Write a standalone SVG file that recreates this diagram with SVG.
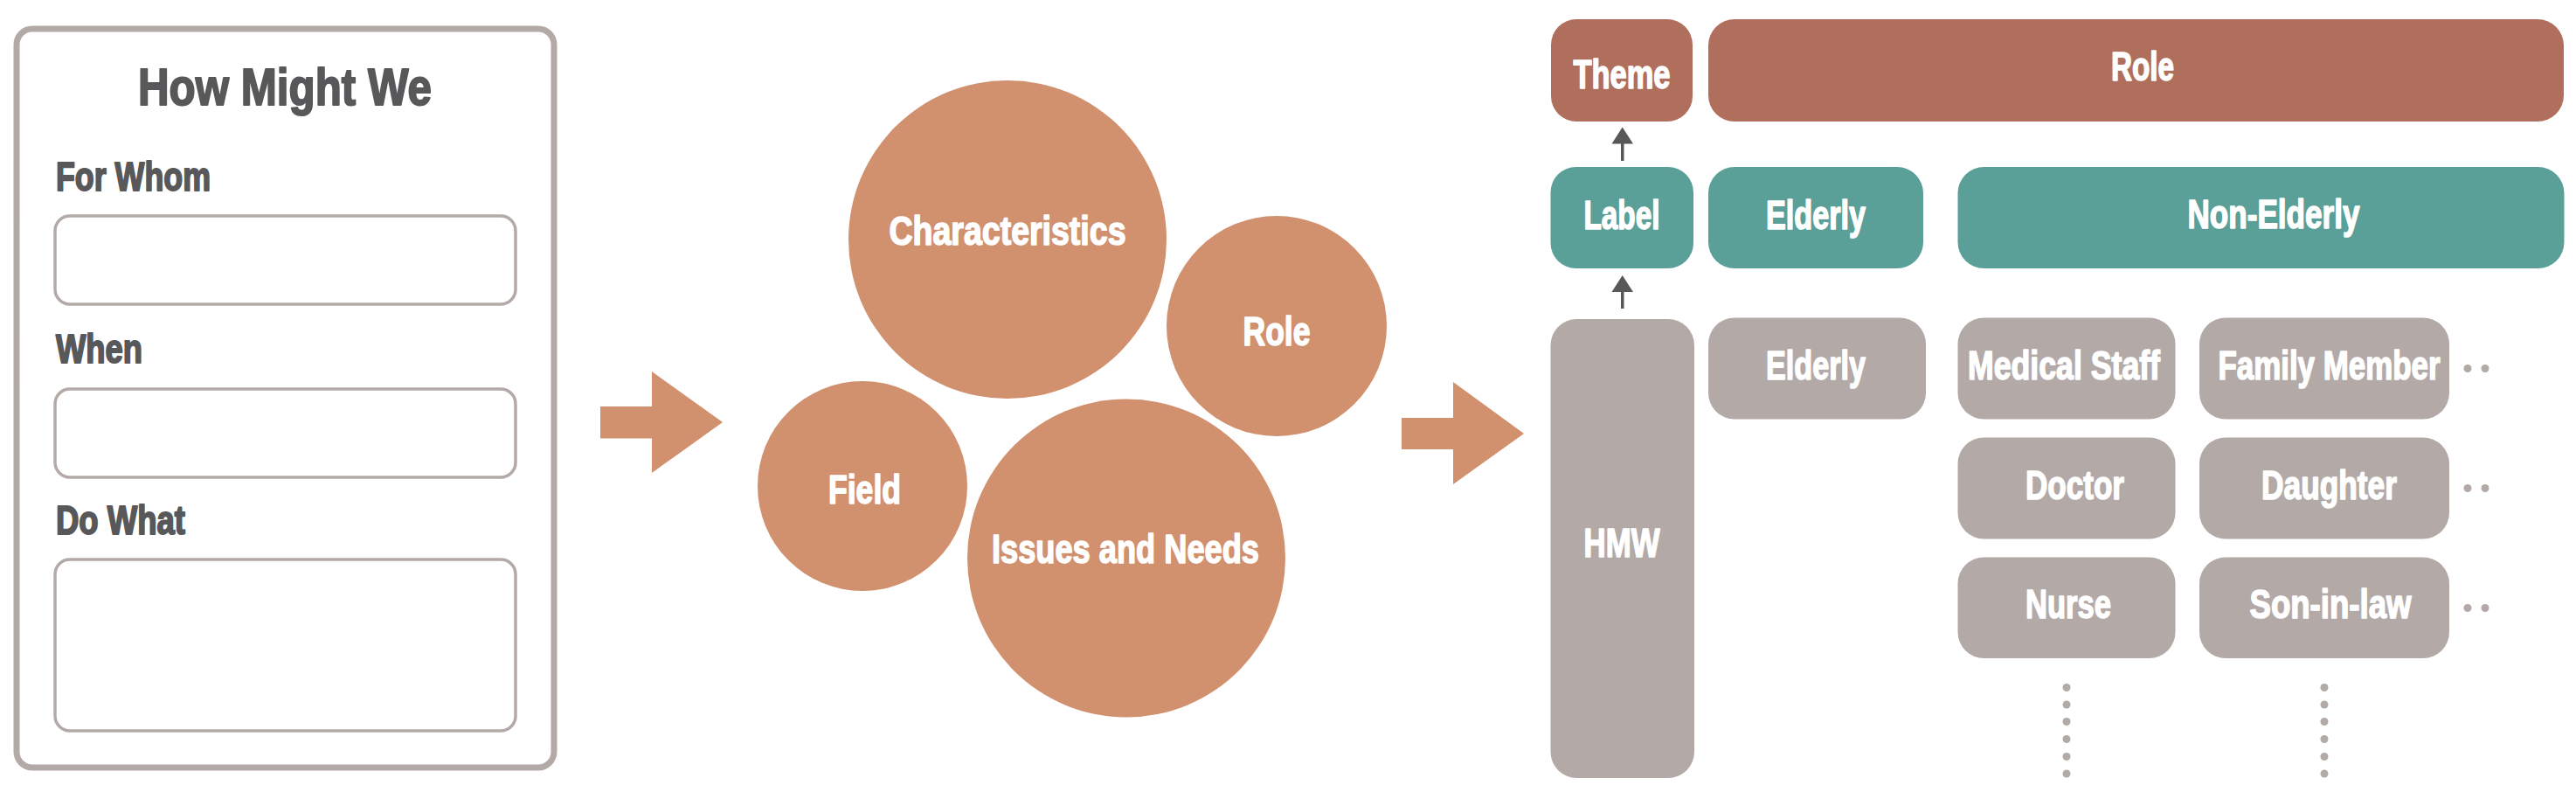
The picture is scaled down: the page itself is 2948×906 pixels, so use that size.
<svg xmlns="http://www.w3.org/2000/svg" width="2948" height="906" viewBox="0 0 2948 906">
<style>
  .t { font-family: "Liberation Sans Narrow", "Liberation Sans", Arial, sans-serif; font-weight: bold; stroke-linejoin: round; }
  .dark { fill: #58585a; stroke: #58585a; stroke-width: 2; }
  .wht { fill: #ffffff; stroke: #ffffff; stroke-width: 1.6; font-size: 46px; text-anchor: middle; }
  .field { fill: #ffffff; stroke: #b3aaa8; stroke-width: 3.5; }
  .circ { fill: #d1906e; }
  .brown { fill: #b06f5c; }
  .teal { fill: #5aa098; }
  .gray { fill: #b3aaa8; }
  .dot { fill: #b3aaa8; }
</style>
<rect width="2948" height="906" fill="#ffffff"/>

<g id="hmw-card">
  <rect x="19" y="33" width="615" height="845" rx="18" fill="#ffffff" stroke="#b3aaa8" stroke-width="7"/>
  <text class="t dark" x="326" y="120" font-size="60" text-anchor="middle" textLength="336" lengthAdjust="spacingAndGlyphs">How Might We</text>
  <text class="t dark" x="64" y="218" font-size="46" textLength="177" lengthAdjust="spacingAndGlyphs">For Whom</text>
  <rect class="field" x="63" y="247" width="527" height="101" rx="17"/>
  <text class="t dark" x="64" y="415" font-size="46" textLength="99" lengthAdjust="spacingAndGlyphs">When</text>
  <rect class="field" x="63" y="445" width="527" height="101" rx="17"/>
  <text class="t dark" x="64" y="611" font-size="46" textLength="148" lengthAdjust="spacingAndGlyphs">Do What</text>
  <rect class="field" x="63" y="640" width="527" height="196" rx="17"/>
</g>

<g id="connectors">
  <polygon fill="#d1906e" points="687,465 746,465 746,425 827,483 746,541 746,501.5 687,501.5"/>
  <polygon fill="#d1906e" points="1604,478 1663,478 1663,437 1744,496 1663,554 1663,514 1604,514"/>
  <g fill="#58585a">
    <rect x="1855" y="163" width="3.5" height="21"/>
    <polygon points="1856.7,145.5 1869,164.5 1844.5,164.5"/>
    <rect x="1855" y="332" width="3.5" height="21"/>
    <polygon points="1856.7,315 1869,334 1844.5,334"/>
  </g>
</g>

<g id="circle-characteristics">
  <circle class="circ" cx="1153" cy="274" r="182"/>
  <text class="t wht" x="1153" y="280" textLength="271" lengthAdjust="spacingAndGlyphs">Characteristics</text>
</g>
<g id="circle-role">
  <circle class="circ" cx="1461" cy="373" r="126"/>
  <text class="t wht" x="1461" y="394.5" textLength="77" lengthAdjust="spacingAndGlyphs">Role</text>
</g>
<g id="circle-field">
  <circle class="circ" cx="987" cy="556" r="120"/>
  <text class="t wht" x="989.5" y="575.5" textLength="83" lengthAdjust="spacingAndGlyphs">Field</text>
</g>
<g id="circle-issues">
  <circle class="circ" cx="1289" cy="638.5" r="182"/>
  <text class="t wht" x="1288" y="644" textLength="306" lengthAdjust="spacingAndGlyphs">Issues and Needs</text>
</g>

<g id="theme">
  <rect class="brown" x="1775" y="22" width="162" height="117" rx="29"/>
  <text class="t wht" x="1856" y="101" textLength="111" lengthAdjust="spacingAndGlyphs">Theme</text>
</g>
<g id="role-bar">
  <rect class="brown" x="1955" y="22" width="979" height="117" rx="30"/>
  <text class="t wht" x="2452" y="91.5" textLength="72" lengthAdjust="spacingAndGlyphs">Role</text>
</g>
<g id="label">
  <rect class="teal" x="1774.5" y="191" width="163.5" height="116" rx="29"/>
  <text class="t wht" x="1856" y="261.5" textLength="87" lengthAdjust="spacingAndGlyphs">Label</text>
</g>
<g id="label-elderly">
  <rect class="teal" x="1955" y="191" width="246" height="116" rx="30"/>
  <text class="t wht" x="2078" y="261.5" textLength="114" lengthAdjust="spacingAndGlyphs">Elderly</text>
</g>
<g id="label-non-elderly">
  <rect class="teal" x="2240.5" y="191" width="694" height="116" rx="30"/>
  <text class="t wht" x="2602" y="261" textLength="197" lengthAdjust="spacingAndGlyphs">Non-Elderly</text>
</g>
<g id="hmw">
  <rect class="gray" x="1774.5" y="365" width="164.5" height="525" rx="30"/>
  <text class="t wht" x="1856" y="637" textLength="87" lengthAdjust="spacingAndGlyphs">HMW</text>
</g>
<g id="elderly">
  <rect class="gray" x="1955" y="363.5" width="249" height="116" rx="30"/>
  <text class="t wht" x="2078" y="433.5" textLength="114" lengthAdjust="spacingAndGlyphs">Elderly</text>
</g>
<g id="medical-staff">
  <rect class="gray" x="2240.5" y="363.5" width="249" height="116" rx="30"/>
  <text class="t wht" x="2362" y="433.5" textLength="220" lengthAdjust="spacingAndGlyphs">Medical Staff</text>
</g>
<g id="doctor">
  <rect class="gray" x="2240.5" y="500.5" width="249" height="116" rx="30"/>
  <text class="t wht" x="2374.5" y="570.5" textLength="113" lengthAdjust="spacingAndGlyphs">Doctor</text>
</g>
<g id="nurse">
  <rect class="gray" x="2240.5" y="637.5" width="249" height="115.5" rx="30"/>
  <text class="t wht" x="2367" y="707" textLength="98" lengthAdjust="spacingAndGlyphs">Nurse</text>
</g>
<g id="family-member">
  <rect class="gray" x="2517" y="363.5" width="286" height="116" rx="30"/>
  <text class="t wht" x="2665.5" y="433.5" textLength="254" lengthAdjust="spacingAndGlyphs">Family Member</text>
</g>
<g id="daughter">
  <rect class="gray" x="2517" y="500.5" width="286" height="116" rx="30"/>
  <text class="t wht" x="2665.5" y="570.5" textLength="155" lengthAdjust="spacingAndGlyphs">Daughter</text>
</g>
<g id="son-in-law">
  <rect class="gray" x="2517" y="637.5" width="286" height="115.5" rx="30"/>
  <text class="t wht" x="2667" y="707" textLength="185" lengthAdjust="spacingAndGlyphs">Son-in-law</text>
</g>

<g id="ellipsis-dots">
  <circle class="dot" cx="2824" cy="421.5" r="4.5"/>
  <circle class="dot" cx="2844" cy="421.5" r="4.5"/>
  <circle class="dot" cx="2824" cy="558.5" r="4.5"/>
  <circle class="dot" cx="2844" cy="558.5" r="4.5"/>
  <circle class="dot" cx="2824" cy="695.5" r="4.5"/>
  <circle class="dot" cx="2844" cy="695.5" r="4.5"/>
  <circle class="dot" cx="2365" cy="786.5" r="4.5"/>
  <circle class="dot" cx="2365" cy="806" r="4.5"/>
  <circle class="dot" cx="2365" cy="825.5" r="4.5"/>
  <circle class="dot" cx="2365" cy="845.5" r="4.5"/>
  <circle class="dot" cx="2365" cy="865.5" r="4.5"/>
  <circle class="dot" cx="2365" cy="885" r="4.5"/>
  <circle class="dot" cx="2660" cy="786.5" r="4.5"/>
  <circle class="dot" cx="2660" cy="806" r="4.5"/>
  <circle class="dot" cx="2660" cy="825.5" r="4.5"/>
  <circle class="dot" cx="2660" cy="845.5" r="4.5"/>
  <circle class="dot" cx="2660" cy="865.5" r="4.5"/>
  <circle class="dot" cx="2660" cy="885" r="4.5"/>
</g>
</svg>
